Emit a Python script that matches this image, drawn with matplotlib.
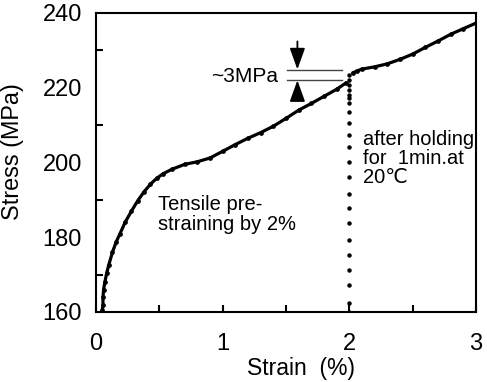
import matplotlib
matplotlib.use("Agg")
import matplotlib.pyplot as plt

plt.rcParams['font.family'] = ['Liberation Sans', 'DejaVu Sans']

# Pre-straining curve
pre_strain = [0.05, 0.055, 0.055, 0.06, 0.07, 0.085, 0.1, 0.13, 0.16, 0.19, 0.23, 0.28,
              0.33, 0.38, 0.43, 0.48, 0.53, 0.6, 0.7, 0.8, 0.9, 1.0, 1.1, 1.2, 1.3,
              1.4, 1.5, 1.6, 1.7, 1.8, 1.9, 1.97]
pre_stress = [160.5, 162, 164, 166, 168, 170.5, 172.5, 176, 178.8, 181, 184, 187,
              189.8, 192.2, 194.2, 195.8, 197, 198.2, 199.5, 200.2, 201.2, 203, 204.8,
              206.5, 208, 209.7, 211.8, 214, 215.8, 217.7, 219.6, 221.2]

# Reloading (after holding) dots
reload_strain = [2.0] * 22
reload_stress = [160, 162.4, 167.2, 171.2, 175.2, 179.3, 183.8, 187.8, 191.6, 196.1, 200.1,
                 204.1, 207.4, 210.6, 213.5, 215.9, 217.3, 218.1, 219.4, 220.7, 222.1, 223.4]

# Post-holding curve
post_strain = [2.03, 2.06, 2.1, 2.2, 2.3, 2.4, 2.5, 2.6, 2.7, 2.8, 2.9, 3.0]
post_stress = [224.0, 224.5, 225.0, 225.6, 226.4, 227.6, 229.0, 230.8, 232.5, 234.3, 235.8, 237.3]

fig = plt.figure(figsize=(4.87, 3.82), dpi=100)
ax = fig.add_axes([96/487, 1-312/382, 380/487, 299/382])

ax.plot(pre_strain, pre_stress, color='black', lw=2.3, marker='o', ms=2.4)
ax.plot(reload_strain, reload_stress, ls='none', color='black', marker='o', ms=2.2)
ax.plot(post_strain, post_stress, color='black', lw=2.3, marker='o', ms=2.4)

ax.set_xlim(0, 3)
ax.set_ylim(160, 240)
ax.set_xticks([0, 1, 2, 3])
ax.set_xticks([0.5, 1.5, 2.5], minor=True)
ax.set_yticks([160, 180, 200, 220, 240])
ax.set_yticks([170, 190, 210, 230], minor=True)
ax.tick_params(axis='both', which='major', direction='in', length=0, labelsize=17)
ax.tick_params(axis='x', which='major', length=5, width=1.5, pad=15)
ax.tick_params(axis='y', which='major', pad=10)
ax.tick_params(axis='both', which='minor', direction='in', length=5, width=1.5)
for s in ax.spines.values():
    s.set_linewidth(1.5)

ax.set_xlabel('Strain  (%)', fontsize=16.5)
ax.set_ylabel('Stress (MPa)', fontsize=16.8)
ax.xaxis.set_label_coords(0.54, -0.15)
ax.yaxis.set_label_coords(-0.19, 0.535)

# ~3MPa annotation
ax.plot([1.51, 1.94], [224.8, 224.8], color='#444444', lw=1)
ax.plot([1.51, 1.94], [222.1, 222.1], color='#444444', lw=1)
arrow_style = dict(arrowstyle='-|>,head_length=1.0,head_width=0.36', color='black',
                   lw=1.3, shrinkA=0, shrinkB=0, mutation_scale=13)
ax.annotate('', xy=(1.59, 224.9), xytext=(1.59, 232.4), arrowprops=arrow_style)
ax.annotate('', xy=(1.59, 222.0), xytext=(1.59, 216.5), arrowprops=arrow_style)
ax.text(1.437, 222.9, '~3MPa', fontsize=15, ha='right', va='center')

ax.text(0.49, 191.3, 'Tensile pre-\nstraining by 2%', fontsize=14.5, ha='left', va='top', linespacing=1.05)
ax.text(2.11, 208.7, 'after holding\nfor  1min.at\n20\u2103', fontsize=14.5, ha='left', va='top', linespacing=1.0)

fig.savefig('out.png', dpi=100)
